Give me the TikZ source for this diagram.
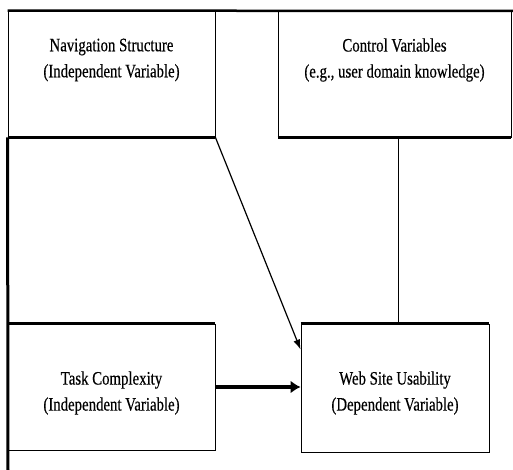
\documentclass[tikz,border=0pt]{standalone}
\usepackage{fontspec}
\setmainfont{Liberation Serif}[FakeStretch=0.78,FakeBold=0.4]
\usepackage{tikz}
\usetikzlibrary{arrows.meta,positioning,calc}

\tikzset{
  varbox/.style={draw,line width=0.9pt,inner sep=0pt},
  vartext/.style={inner sep=0.75pt,align=center,font={\fontsize{19}{26}\selectfont}},
  heavy/.style={line width=3pt},
}

\begin{document}
\begin{tikzpicture}[x=1pt,y=1pt,yscale=-1,xscale=1]
  \useasboundingbox (0,0) rectangle (513,470);
  %Boxes
  \node [varbox,minimum width=207,minimum height=126] (nav) at (111.5,74) {};
  \node [varbox,minimum width=233,minimum height=126] (ctrl) at (394.5,74) {};
  \node [varbox,minimum width=207,minimum height=126] (task) at (111.5,387) {};
  \node [varbox,minimum width=188,minimum height=128] (web) at (395,388) {};
  %Frame and heavy edges
  \coordinate (frametr) at (513,11);
  \coordinate (framebl) at (8,470);
  \draw [line width=2.5pt] (nav.north west) -- (frametr);
  \draw [heavy] (nav.south west) -- (framebl);
  \draw [heavy] (nav.south west) -- (nav.south east);
  \draw [heavy] (ctrl.south west) -- (ctrl.south east);
  \draw [heavy] (task.north west) -- (task.north east);
  \draw [heavy] (web.north west) -- (web.north east);
  % Text Node
  \node [vartext] (navtxt) at (111.5,60) {Navigation Structure\\(Independent Variable)};
  \node [vartext] (ctrltxt) at (394.5,60) {Control Variables\\(e.g., user domain knowledge)};
  \node [vartext] (tasktxt) at (111.5,393) {Task Complexity\\(Independent Variable)};
  \node [vartext] (webtxt) at (395,393) {Web Site Usability\\(Dependent Variable)};
  %Connectors
  \coordinate (webin) at ($(web.north west)+(0,26)$);
  \draw [-{Latex[length=10pt,width=7pt]},line width=1.2pt] (nav.south east) -- (webin);
  \draw [line width=0.8pt] (ctrl.south east -| web.north) ++(3,0) coordinate (ctrlout) -- (ctrlout |- web.north);
  \draw [-{Latex[length=10pt,width=13pt]},line width=3.5pt] (task.east) -- (task.east -| web.west);
\end{tikzpicture}
\end{document}
